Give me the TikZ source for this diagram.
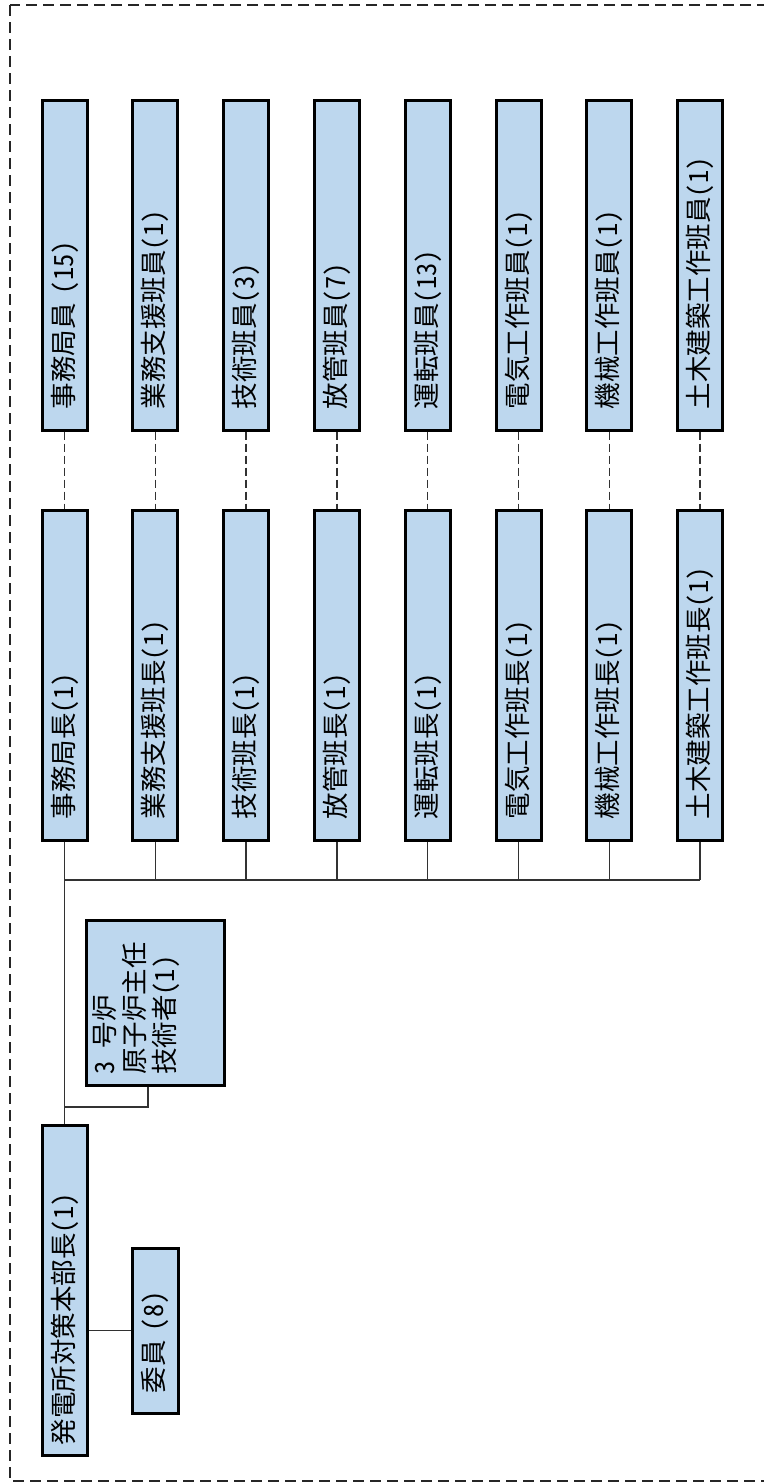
\documentclass[tikz,border=0pt]{standalone}
\usepackage{fontspec}
\setmainfont{Noto Sans CJK JP}[CharacterWidth=Half]
\usetikzlibrary{calc}
\definecolor{boxfill}{RGB}{189,215,238}
\definecolor{linegray}{RGB}{50,50,50}
\begin{document}
\begin{tikzpicture}[x=1pt,y=1pt,
  box/.style={draw=black, line width=3pt, fill=boxfill, rotate=90,
    inner xsep=0pt, inner ysep=0pt, align=left,
    font=\fontsize{26.5}{30}\selectfont},
  colbox/.style={box, minimum width=330pt, minimum height=45pt, text width=288pt},
  link/.style={draw=linegray, line width=1.4pt},
  dlink/.style={link, dash pattern=on 8pt off 4pt},
]
\useasboundingbox (0,0) rectangle (763,-1483);
\draw[line width=2.6pt, draw=black!85, dash pattern=on 11pt off 6pt]
  (10,-5) rectangle (800,-1481);

\foreach \i/\u/\l [evaluate=\i as \cx using 64.5+90.8*\i] in {
  0/{事務局員 (15)}/{事務局長(1)},
  1/{業務支援班員(1)}/{業務支援班長(1)},
  2/{技術班員(3)}/{技術班長(1)},
  3/{放管班員(7)}/{放管班長(1)},
  4/{運転班員(13)}/{運転班長(1)},
  5/{電気工作班員(1)}/{電気工作班長(1)},
  6/{機械工作班員(1)}/{機械工作班長(1)},
  7/{土木建築工作班員(1)}/{土木建築工作班長(1)}}{
  \node[colbox] (u\i) at (\cx,-265) {\u};
  \node[colbox] (l\i) at (\cx,-675) {\l};
  \draw[dlink] (u\i.west) -- (l\i.east);
}

\node[box, minimum width=330pt, minimum height=45pt, text width=310pt] (hq) at (64.5,-1290) {発電所対策本部長(1)};
\node[box, minimum width=165pt, minimum height=46pt, text width=125pt] (iin) at (155,-1330.5) {委員 (8)};
\node[box, minimum width=165pt, minimum height=138pt] (r3) at (155,-1002.5) {};
\node[rotate=90, anchor=north west, align=left, inner sep=0pt,
  font=\fontsize{26.5}{30}\selectfont] (r3t) at (92,-1075) {3 号炉\\原子炉主任\\技術者(1)};

% trunk and bus
\draw[link] (l0.west) -- (hq.east);
\coordinate (busL) at (l0.west |- 0,-880);
\draw[link] (busL) -- (l7.west |- busL);
\foreach \i in {1,...,7}{
  \draw[link] (l\i.west) -- (l\i.west |- busL);
}
\coordinate (j3) at (l0.west |- 0,-1107);
\draw[link] ([xshift=-7pt]r3.west) |- (j3);
\draw[link] (hq.south |- iin.north) -- (iin.north);
\end{tikzpicture}
\end{document}
